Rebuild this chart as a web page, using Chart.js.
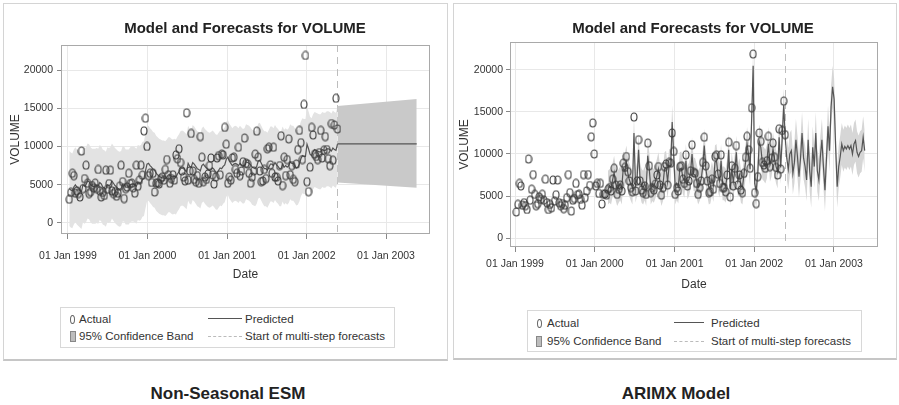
<!DOCTYPE html>
<html>
<head>
<meta charset="utf-8">
<script src="https://cdn.jsdelivr.net/npm/chart.js@4.4.0/dist/chart.umd.min.js"></script>
<style>
  body { margin: 0; width: 899px; height: 405px; background: #fff; position: relative; overflow: hidden;
         font-family: "Liberation Sans", Arial, sans-serif; color: #222; }
  canvas, .panel, .title, .cap, .leg, .lt, .mk { position: absolute; }
  .panel { border: 1px solid #d4d4d4; border-bottom: 2px solid #c6c6c6; box-sizing: border-box; }
  .title { font-weight: bold; font-size: 15px; line-height: 18px; white-space: nowrap; transform: translateX(-50%); color: #222; }
  .cap { font-weight: bold; font-size: 17px; line-height: 22px; white-space: nowrap; transform: translateX(-50%); color: #222; }
  .leg { border: 1px solid #d8d8d8; box-sizing: border-box; }
  .lt { font-size: 11.5px; line-height: 14px; white-space: nowrap; color: #333; }
</style>
</head>
<body>
<div class="panel" style="left:3px;top:3px;width:445px;height:358px"></div>
<div class="panel" style="left:453px;top:3px;width:444px;height:357px"></div>

<canvas id="esmChart" width="444" height="292" style="left:3px;top:3px"></canvas>
<canvas id="arimaChart" width="444" height="300" style="left:453px;top:3px"></canvas>

<div class="title" style="left:245px;top:19px">Model and Forecasts for VOLUME</div>
<div class="title" style="left:693px;top:19px">Model and Forecasts for VOLUME</div>

<!-- legend, left panel -->
<div class="leg" style="left:60px;top:307px;width:335px;height:41px"></div>
<div class="mk" style="left:70px;top:315px;width:3px;height:7px;border:1px solid #666;border-radius:50%"></div>
<div class="lt" style="left:79px;top:312px">Actual</div>
<div class="mk" style="left:70px;top:331px;width:4px;height:9px;background:#bdbdbd;border:1px solid #888"></div>
<div class="lt" style="left:79px;top:329px">95% Confidence Band</div>
<div class="mk" style="left:208px;top:318px;width:34px;border-top:1.5px solid #555"></div>
<div class="lt" style="left:245px;top:312px">Predicted</div>
<div class="mk" style="left:208px;top:336px;width:34px;border-top:1px dashed #bbb"></div>
<div class="lt" style="left:245px;top:329px">Start of multi-step forecasts</div>

<!-- legend, right panel -->
<div class="leg" style="left:527px;top:310px;width:335px;height:42px"></div>
<div class="mk" style="left:537px;top:319px;width:3px;height:7px;border:1px solid #666;border-radius:50%"></div>
<div class="lt" style="left:547px;top:316px">Actual</div>
<div class="mk" style="left:536px;top:336px;width:4px;height:9px;background:#bdbdbd;border:1px solid #888"></div>
<div class="lt" style="left:547px;top:334px">95% Confidence Band</div>
<div class="mk" style="left:674px;top:322px;width:30px;border-top:1.5px solid #555"></div>
<div class="lt" style="left:711px;top:316px">Predicted</div>
<div class="mk" style="left:674px;top:341px;width:30px;border-top:1px dashed #bbb"></div>
<div class="lt" style="left:711px;top:334px">Start of multi-step forecasts</div>

<div class="cap" style="left:228px;top:383px">Non-Seasonal ESM</div>
<div class="cap" style="left:676px;top:383px">ARIMX Model</div>

<script>
const FONT = "'Liberation Sans', Arial, sans-serif";

// weekly observations; x is days after 01 Jan 1999
const FIRST_DAY = 6;
const FORECAST_START_WEEK = 176;
const LAST_WEEK = 228;
const YEAR_TICKS = [0, 365, 731, 1096, 1461];
const YEAR_LABELS = ['01 Jan 1999', '01 Jan 2000', '01 Jan 2001', '01 Jan 2002', '01 Jan 2003'];
const VOLUME_TICKS = [0, 5000, 10000, 15000, 20000];

const actual = [
  3100,4000,6500,6200,3900,4200,3850,3400,9400,4500,
  5800,7550,5200,3850,4100,4900,4600,5200,4500,7000,
  4200,3400,4000,3600,6900,4400,5150,6900,4200,3850,
  4100,3500,3900,4800,7550,5400,3200,4500,4700,6500,
  5150,5200,4600,3900,7550,4800,5600,7550,6250,12050,
  13700,10000,
  6200,6500,5300,6500,4050,5200,5240,5100,
  5800,6000,5600,7000,8300,6300,5200,5800,6300,5600,
  8900,8400,9700,7900,6800,6000,5500,14400,5600,6800,
  11700,6800,5700,5400,6200,5200,11300,8600,5400,6000,
  5700,6400,7500,8500,6300,5100,6000,8500,8800,6300,
  9000,8900,12500,10300,5200,6000,5600,8500,8600,7000,
  6500,9900,6200,6800,8000,11100,7800,7700,6500,5200,
  6000,6800,9000,12000,8600,6800,5400,5500,7000,5800,
  9700,9900,7600,6500,9900,6000,6000,5500,7500,11400,
  4900,8600,6200,8300,11000,6300,7500,5700,5400,7700,
  9600,12100,10500,8300,15500,21900,5400,4100,7300,12500,
  11500,9000,8700,8300,9200,12100,8500,9500,11300,9600,
  8400,7500,13000,8200,12800,16300,12300
];

// Non-seasonal ESM: one-step predictions over the history
const esmPredicted = [
  4500,4300,4200,4700,5000,4700,4500,4300,4100,5000,4800,5000,
  5500,5400,5000,4800,4800,4800,4900,4800,5300,5100,4700,4600,
  4400,5000,4900,5000,5500,5200,4900,4700,4500,4400,4500,5100,
  5100,4700,4700,4700,5000,5100,5100,5000,4800,5300,5200,5300,
  5700,5800,6800,7700,7800,7500,7300,7000,6900,6500,6300,6100,
  6000,5900,5900,5800,6000,6300,6300,6100,6000,6100,6000,6400,
  6700,7100,7200,7100,6900,6700,7800,7400,7300,7900,7700,7400,
  7100,7000,6800,7500,7700,7400,7200,7000,6900,7000,7200,7000,
  6700,6600,6900,7200,7100,7400,7600,8300,8600,8100,7800,7500,
  7700,7800,7700,7500,7800,7600,7400,7500,8000,7900,7800,7600,
  7300,7200,7100,7400,8100,8200,7800,7400,7100,7100,6900,7300,
  7700,7700,7500,7900,7600,7400,7100,7100,7700,7300,7500,7300,
  7500,8000,7800,7800,7500,7200,7300,7700,8400,8800,8700,8700,
  10300,9700,9000,8800,9300,9600,9500,9400,9300,9300,9600,9500,
  9500,9700,9700,9600,9400,9800,9600,9500,10300
];
const ESM_BAND_HALF = 4900;
// multi-step forecast: flat level, band widening (start, end)
const esmForecast = [10330, 10330];
const esmForecastUpper = [15300, 16200];
const esmForecastLower = [5300, 4600];

// ARIMAX: predictions start in spring 2000
const ARIMA_START_WEEK = 60;
const arimaPredicted = [
  6000,6200,6000,6900,7800,6500,5800,6200,6500,6000,
  8300,8000,9000,7700,6900,6400,6000,12500,6200,7000,
  10500,7000,6200,6000,6500,5800,9800,8200,6000,6400,
  6200,6700,7400,8200,6700,5800,6400,8200,8400,6700,
  8600,8500,13800,9800,6000,6500,6100,8200,8300,7200,
  6800,9200,6600,7000,7800,10000,7600,7500,6800,6000,
  6400,7000,8500,11000,8300,7000,6000,6100,7100,6300,
  9000,9200,7500,6800,9200,6500,6500,6200,7400,10500,
  5800,8200,6700,8000,10200,6800,7500,6200,6000,7600,
  9000,11200,9900,8200,14000,20500,6500,5600,7600,11500,
  10800,9000,8800,8500,9100,11200,8700,9300,10600,9400,
  8500,7900,12000,8400,11800,15800,12000
];
const arimaForecast = [
  9500,8200,10000,10400,7700,9000,11700,9700,7300,9500,
  12500,9500,8500,6900,11700,8000,6100,10800,8500,12500,
  8000,6900,9700,11700,8500,5700,9500,13300,10400,15600,
  18000,16500,10800,6100,8500,9700,11200,10400,10900,10600,
  11000,10600,11000,10000,11200,11600,10200,9700,10200,10400,
  12000,10400
];
const ARIMA_BAND_HALF = 2000;
const ARIMA_FCST_BAND_HALF = 2500;

const dayOf = i => FIRST_DAY + 7 * i;
const pts = (arr, start, shift) => arr.map((v, k) => ({ x: dayOf(start + k), y: v + (shift || 0) }));

function ovalMarker(w, h) {
  const c = document.createElement('canvas');
  c.width = w + 2; c.height = h + 2;
  const g = c.getContext('2d');
  g.strokeStyle = '#3c3c3c';
  g.lineWidth = 1.1;
  g.beginPath();
  g.ellipse(c.width / 2, c.height / 2, w / 2, h / 2, 0, 0, Math.PI * 2);
  g.stroke();
  return c;
}
const marker = ovalMarker(6, 8);

const framePlugin = {
  id: 'frame',
  beforeDatasetsDraw(chart) {
    const { ctx, chartArea: a, scales: { x } } = chart;
    const px = x.getPixelForValue(dayOf(FORECAST_START_WEEK));
    ctx.save();
    ctx.strokeStyle = '#bdbdbd';
    ctx.setLineDash([7, 5]);
    ctx.beginPath();
    ctx.moveTo(Math.round(px) + 0.5, a.top);
    ctx.lineTo(Math.round(px) + 0.5, a.bottom);
    ctx.stroke();
    ctx.restore();
  },
  afterDraw(chart) {
    const { ctx, chartArea: a } = chart;
    ctx.save();
    ctx.strokeStyle = '#a9a9a9';
    ctx.lineWidth = 1;
    ctx.strokeRect(a.left + 0.5, a.top + 0.5, a.right - a.left - 1, a.bottom - a.top - 1);
    ctx.restore();
  }
};

function scales(p) {
  return {
    x: {
      type: 'linear', min: p.xmin, max: p.xmax,
      afterBuildTicks: s => { s.ticks = YEAR_TICKS.map(v => ({ value: v })); },
      afterFit: s => { s.height = p.xh; },
      ticks: { callback: v => YEAR_LABELS[YEAR_TICKS.indexOf(v)], color: '#333', font: { size: 10.5, family: FONT },
               padding: p.xpad, maxRotation: 0, autoSkip: false },
      grid: { color: '#e8e8e8', tickColor: '#888', tickLength: 5 },
      border: { display: false },
      title: { display: true, text: 'Date', color: '#333', font: { size: 12, family: FONT }, padding: { top: 0, bottom: p.dpad } }
    },
    y: {
      min: p.ymin, max: p.ymax,
      afterBuildTicks: s => { s.ticks = VOLUME_TICKS.map(v => ({ value: v })); },
      afterFit: s => { s.width = p.yw; },
      ticks: { callback: v => String(v), color: '#333', font: { size: 10.5, family: FONT }, padding: p.ypad },
      grid: { color: '#e8e8e8', tickColor: '#888', tickLength: 4 },
      border: { display: false },
      title: { display: true, text: 'VOLUME', color: '#333', font: { size: 12, family: FONT }, padding: { top: p.vpad, bottom: 0 } }
    }
  };
}

function baseOptions(p) {
  return {
    responsive: false, animation: false, devicePixelRatio: 1,
    layout: { padding: { top: p.top, right: p.right, left: 0, bottom: 0 } },
    plugins: { legend: { display: false }, title: { display: false }, tooltip: { enabled: false } },
    scales: scales(p)
  };
}

const actualSet = { type: 'scatter', data: pts(actual, 0), pointStyle: marker, pointRadius: 4, order: 0 };
const lineStyle = { type: 'line', borderColor: '#555', borderWidth: 1.2, pointRadius: 0, tension: 0, fill: false, order: 1 };
const bandStyle = { type: 'line', borderWidth: 0, pointRadius: 0, tension: 0 };

const fcX = [dayOf(FORECAST_START_WEEK), dayOf(LAST_WEEK)];
const twoPts = arr => arr.map((v, k) => ({ x: fcX[k], y: v }));

new Chart(document.getElementById('esmChart'), {
  type: 'line',
  data: {
    datasets: [
      { ...actualSet },
      { ...lineStyle, data: pts(esmPredicted, 0) },
      { ...lineStyle, data: twoPts(esmForecast) },
      { ...bandStyle, data: pts(esmPredicted, 0, ESM_BAND_HALF), fill: '+1', backgroundColor: '#e3e3e3', order: 3 },
      { ...bandStyle, data: pts(esmPredicted, 0, -ESM_BAND_HALF), fill: false, order: 3 },
      { ...bandStyle, data: twoPts(esmForecastUpper), fill: '+1', backgroundColor: '#c9c9c9', order: 2 },
      { ...bandStyle, data: twoPts(esmForecastLower), fill: false, order: 2 }
    ]
  },
  options: baseOptions({ top: 42, right: 17, xmin: -32, xmax: 1663, ymin: -1440, ymax: 23270,
                         xh: 61, xpad: 11, dpad: 13, yw: 58, ypad: 4, vpad: 5 }),
  plugins: [framePlugin]
});

const arimaAll = arimaPredicted.concat(arimaForecast);
const histLen = arimaPredicted.length;
new Chart(document.getElementById('arimaChart'), {
  type: 'line',
  data: {
    datasets: [
      { ...actualSet },
      { ...lineStyle, data: pts(arimaAll, ARIMA_START_WEEK) },
      { ...bandStyle, data: pts(arimaPredicted, ARIMA_START_WEEK, ARIMA_BAND_HALF), fill: '+1', backgroundColor: '#d6d6d6', order: 3 },
      { ...bandStyle, data: pts(arimaPredicted, ARIMA_START_WEEK, -ARIMA_BAND_HALF), fill: false, order: 3 },
      { ...bandStyle, data: pts(arimaForecast, ARIMA_START_WEEK + histLen, ARIMA_FCST_BAND_HALF), fill: '+1', backgroundColor: '#d6d6d6', order: 3 },
      { ...bandStyle, data: pts(arimaForecast, ARIMA_START_WEEK + histLen, -ARIMA_FCST_BAND_HALF), fill: false, order: 3 }
    ]
  },
  options: baseOptions({ top: 39, right: 19, xmin: -23, xmax: 1663, ymin: -1070, ymax: 23330,
                         xh: 56, xpad: 6, dpad: 11, yw: 57, ypad: 3, vpad: 4 }),
  plugins: [framePlugin]
});
</script>
</body>
</html>
